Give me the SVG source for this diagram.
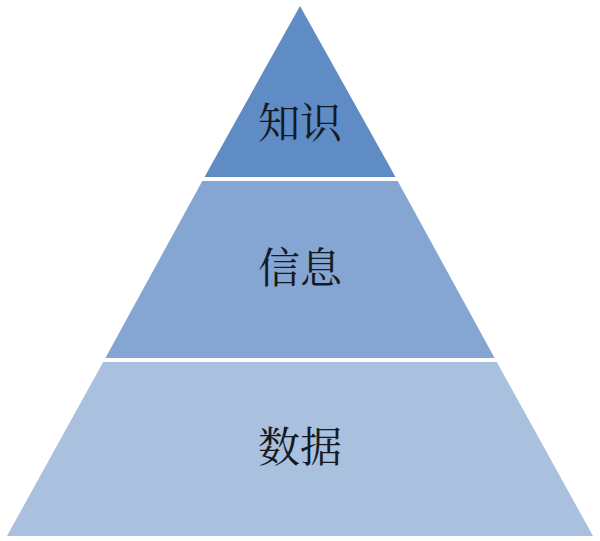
<svg xmlns="http://www.w3.org/2000/svg" width="600" height="541" viewBox="0 0 600 541">
<style>
  .lbl { font-family: "Noto Serif CJK SC", "Noto Sans CJK SC", serif; font-size: 42px; fill: #151a22; text-anchor: middle; }
</style>
<rect width="600" height="541" fill="#ffffff"/>
<g id="knowledge">
  <polygon points="300,6 395.5,177 204.5,177" fill="#5f8cc5"/>
  <text class="lbl" x="300" y="138">知识</text>
</g>
<g id="information">
  <polygon points="202.3,181 397.7,181 494.6,358 105.4,358" fill="#85a6d3"/>
  <text class="lbl" x="300" y="283">信息</text>
</g>
<g id="data">
  <polygon points="103.2,362 496.8,362 593,536 7,536" fill="#a9c0de"/>
  <text class="lbl" x="300" y="462">数据</text>
</g>
<g id="connectors"></g>
</svg>
